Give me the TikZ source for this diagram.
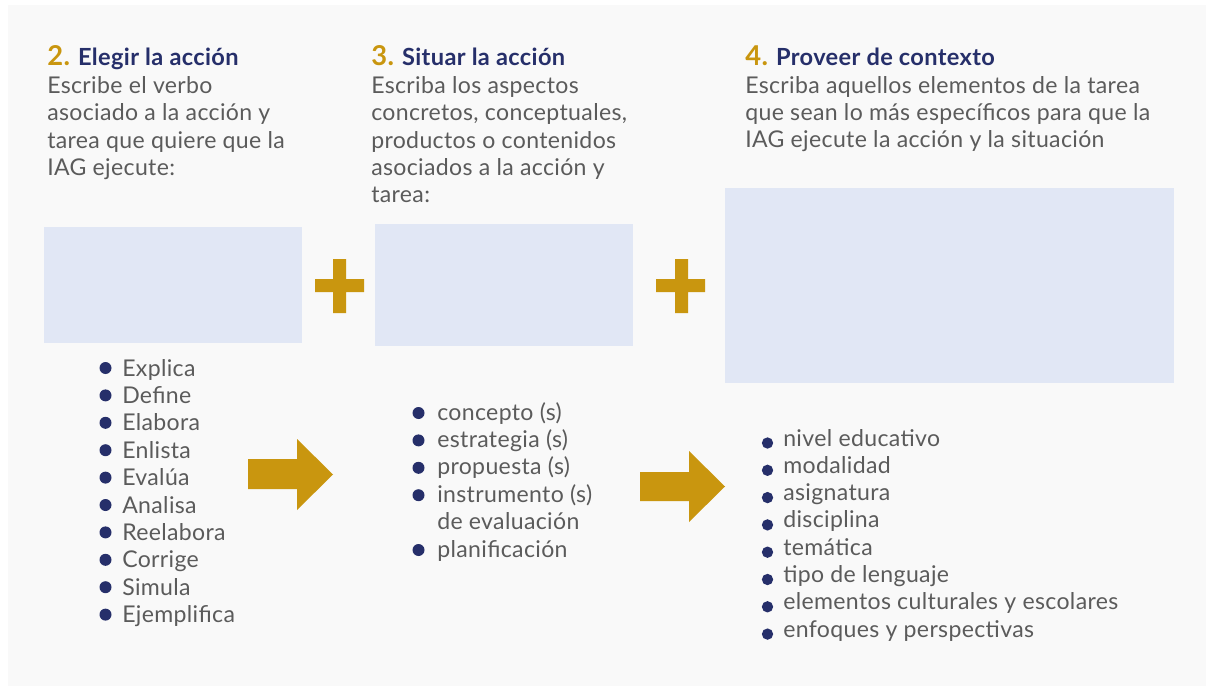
\documentclass[tikz,border=0pt]{standalone}
\usepackage{fontspec}
\setmainfont{Lato}[LetterSpace=1.5]
\usepackage{tikz}
\definecolor{oro}{HTML}{C9960F}
\definecolor{marino}{HTML}{262F6A}
\definecolor{texto}{HTML}{5B5B5B}
\definecolor{caja}{HTML}{E1E7F5}
\definecolor{fondo}{HTML}{F9F9F9}

\tikzset{
  titulo/.style={anchor=base west, inner sep=0pt, font=\bfseries\fontsize{17.7}{21}\selectfont, text=marino},
  cuerpo/.style={anchor=base west, inner sep=0pt, align=left, font=\fontsize{17.3}{20.6}\selectfont, text=texto},
  lista/.style={anchor=base west, inner sep=0pt, align=left, font=\fontsize{17.3}{20.6}\selectfont, text=texto},
  vineta/.style={circle, fill=marino, inner sep=0pt, minimum size=9pt},
  cajon/.style={fill=caja},
  dorado/.style={fill=oro},
}
\newcommand{\numero}[1]{\textcolor{oro}{\fontsize{20.5}{21}\selectfont #1}}

\begin{document}
\begin{tikzpicture}[x=0.75pt,y=0.75pt,yscale=-1,xscale=1]
%set diagram size 1207 x 688
\path[use as bounding box, fill=white] (0,0) rectangle (1207,688);
\fill[fondo] (8,5) rectangle (1206,686);

%Shape: Rectangle [caja 2]
\fill[cajon] (44,227) rectangle (302,343);
%Shape: Rectangle [caja 3]
\fill[cajon] (375,224) rectangle (633,346);
%Shape: Rectangle [caja 4]
\fill[cajon] (725,188) rectangle (1174,383);

%Shape: Plus
\fill[dorado] (315,279) rectangle (364,292) (333,259) rectangle (346,313);
%Shape: Plus
\fill[dorado] (656,279) rectangle (705,292) (675,259) rectangle (688,313);

%Shape: Right Arrow
\fill[dorado] (248,459) -- (297,459) -- (297,439) -- (333,474.5) -- (297,510) -- (297,489) -- (248,489) -- cycle;
%Shape: Right Arrow
\fill[dorado] (640,472) -- (689,472) -- (689,451) -- (725,486.5) -- (689,522) -- (689,501) -- (640,501) -- cycle;

% Text Node (base = last line)
\node[titulo] (t2) at (47,66) {\numero{2.} Elegir la acción};
% Text Node
\node[cuerpo] (c2) at (47,175.5) {Escribe el verbo\\asociado a la acción y\\tarea que quiere que la\\IAG ejecute:};
% Text Node
\node[titulo] (t3) at (371,66) {\numero{3.} Situar la acción};
% Text Node
\node[cuerpo] (c3) at (371,203) {Escriba los aspectos\\concretos, conceptuales,\\productos o contenidos\\asociados a la acción y\\tarea:};
% Text Node
\node[titulo] (t4) at (745,66) {\numero{4.} Proveer de contexto};
% Text Node
\node[cuerpo] (c4) at (745,148) {Escriba aquellos elementos de la tarea\\que sean lo más específicos para que la\\IAG ejecute la acción y la situación};

% Lista 2
\foreach \t [count=\i] in {Explica,Define,Elabora,Enlista,Evalúa,Analisa,Reelabora,Corrige,Simula,Ejemplifica}{
  \node[vineta] (va\i) at (105.5,{368+27.4*(\i-1)}) {};
  \node[lista] (la\i) at (122,{376+27.4*(\i-1)}) {\t};
}
% Lista 3
\foreach \t/\y/\b [count=\i] in {concepto (s)/420/413,estrategia (s)/447.4/440.4,propuesta (s)/474.8/467.8,{instrumento (s)\\de evaluación}/529.6/495.2,planificación/557/550}{
  \node[vineta] (vb\i) at (418.5,\b) {};
  \node[lista] (lb\i) at (437,\y) {\t};
}
% Lista 4
\foreach \t [count=\i] in {nivel educativo,modalidad,asignatura,disciplina,temática,tipo de lenguaje,elementos culturales y escolares,enfoques y perspectivas}{
  \node[vineta, minimum size=8.5pt] (vc\i) at (767.5,{443+27.3*(\i-1)}) {};
  \node[lista] (lc\i) at (783,{446+27.3*(\i-1)}) {\t};
}

\end{tikzpicture}
\end{document}
